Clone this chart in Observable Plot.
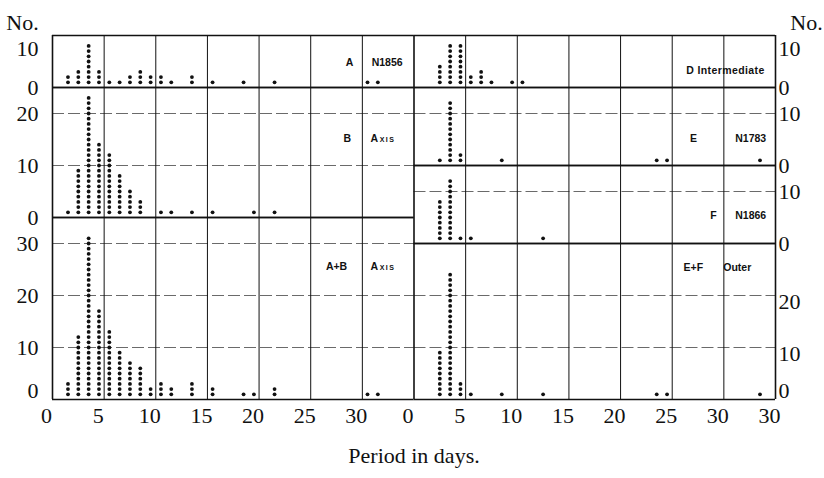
<!DOCTYPE html>
<html><head><meta charset="utf-8">
<script src="https://cdn.jsdelivr.net/npm/d3@7"></script>
<script src="https://cdn.jsdelivr.net/npm/@observablehq/plot@0.6"></script>
<style>
body{margin:0;background:#fff;}
#chart svg{display:block;background:#fff;}
</style></head><body><div id="chart"></div>
<script>
// ---- data (period bin centres in days, number of stars per bin) ----
const periodsLeft  = [1.5,2.5,3.5,4.5,5.5,6.5,7.5,8.5,9.5,10.5,11.5,13.5,15.5,18.5,19.5,21.5,30.5,31.5];
const countA       = [2,3,8,3,1,1,2,3,2,2,1,2,1,1,0,1,1,1];
const countB       = [1,9,23,14,12,8,5,3,0,1,1,1,1,0,1,1,0,0];
const countAB      = [3,12,31,17,13,9,7,6,2,3,2,3,2,1,1,2,1,1];
const periodsRight = [2.5,3.5,4.5,5.5,6.5,7.5,8.5,9.5,10.5,12.5,23.5,24.5,33.5];
const countD       = [4,8,8,2,3,1,0,1,1,0,0,0,0];
const countE       = [1,12,2,0,0,0,1,0,0,0,1,1,1];
const countF       = [8,12,1,1,0,0,0,0,0,1,0,0,0];
const countEF      = [9,24,3,1,0,0,1,0,0,1,1,1,1];
const panelLetters = ["A","B","A+B","D Intermediate","E","F","E+F"];
const panelNames   = ["N1856","Axis","Axis","","N1783","N1866","Outer"];
const xTickValues  = [0,5,10,15,20,25,30,35,40,45,50,55,60,65,70];
const xTickLabels  = ["0","5","10","15","20","25","30","0","5","10","15","20","25","30","30"];

// ---- layout of the stacked panels (y in count units, x in days; right half offset by 35) ----
const panels = [
  {side:0, base:60, top:70, periods:periodsLeft,  counts:countA,  ticks:[0,10],       grid:[],          lx:28.75, nx:32.4, ly:64.8},
  {side:0, base:35, top:60, periods:periodsLeft,  counts:countB,  ticks:[0,10,20],    grid:[10,20],     lx:28.55, nx:32.0, ly:50.2},
  {side:0, base:0,  top:35, periods:periodsLeft,  counts:countAB, ticks:[0,10,20,30], grid:[10,20,30],  lx:27.5,  nx:32.0, ly:25.6},
  {side:1, base:60, top:70, periods:periodsRight, counts:countD,  ticks:[0,10],       grid:[],          lx:65.15, nx:0,    ly:63.3},
  {side:1, base:45, top:60, periods:periodsRight, counts:countE,  ticks:[0,10],       grid:[10],        lx:62.05, nx:67.6, ly:50.1},
  {side:1, base:30, top:45, periods:periodsRight, counts:countF,  ticks:[0,10],       grid:[10],        lx:64.0,  nx:67.6, ly:35.4},
  {side:1, base:0,  top:30, periods:periodsRight, counts:countEF, ticks:[0,10,20],    grid:[10,20],     lx:62.05, nx:66.3, ly:25.4}
];

const dots = panels.flatMap(p => p.periods.flatMap((d, i) =>
  d3.range(1, p.counts[i] + 1).map(k => ({x: p.side * 35 + d, y: p.base + k}))));

const borders = panels.flatMap(p => [p.base, p.top].map(y => ({y, x1: p.side * 35, x2: p.side * 35 + 35})));
const grids = panels.flatMap(p => p.grid.map(g => ({y: p.base + g, x1: p.side * 35, x2: p.side * 35 + 35})));

const yLabels = panels.flatMap(p => p.ticks.map(t => ({
  side: p.side, y: p.base + t, text: String(t),
  shift: (p.base + t === p.top && p.top === 70) ? 13 : (p.base === 0 && t === 0 ? -9 : (p.base === 0 && p.side === 1 ? 6 : 0))
})));

const letters = panels.map((p, i) => ({x: p.lx, y: p.ly, text: panelLetters[i]}));
const names = panels.map((p, i) => ({x: p.nx, y: p.ly, text: panelNames[i]})).filter(d => d.text);

const serif = "'Liberation Serif', 'DejaVu Serif', serif";
const sans = "'Liberation Sans', Arial, sans-serif";
const FS = 22;

const yLabelMarks = [];
for (const side of [0, 1]) {
  for (const shift of Array.from(new Set(yLabels.map(d => d.shift)))) {
    const sub = yLabels.filter(d => d.side === side && d.shift === shift);
    if (!sub.length) continue;
    yLabelMarks.push(Plot.text(sub, {
      x: side ? 70 : 0, y: "y", text: "text",
      dx: side ? 3 : -14, dy: shift, textAnchor: side ? "start" : "end",
      fontFamily: serif, fontSize: FS, fill: "#111"
    }));
  }
}

const chart = Plot.plot({
  width: 824, height: 478,
  marginLeft: 52, marginRight: 49, marginTop: 35, marginBottom: 79,
  x: {domain: [0, 70], axis: null},
  y: {domain: [0, 70], axis: null},
  style: {background: "#fff", color: "#111"},
  marks: [
    Plot.ruleY(grids, {y: "y", x1: "x1", x2: "x2", stroke: "#444", strokeWidth: 0.8, strokeDasharray: "12,4"}),
    Plot.ruleX(xTickValues.filter(v => v % 35 !== 0), {x: d => d, y1: 0, y2: 70, stroke: "#111", strokeWidth: 1}),
    Plot.ruleX([0, 35, 70], {x: d => d, y1: 0, y2: 70, stroke: "#111", strokeWidth: 1.6}),
    Plot.ruleY(borders, {y: "y", x1: "x1", x2: "x2", stroke: "#111", strokeWidth: 1.4}),
    Plot.dot(dots, {x: "x", y: "y", r: 1.9, fill: "#111", stroke: "none"}),
    Plot.text(letters, {x: "x", y: "y", text: "text", fontFamily: sans, fontWeight: "bold", fontSize: 10.5, fill: "#111"}),
    Plot.text(names, {x: "x", y: "y", text: "text", fontFamily: sans, fontWeight: "bold", fontSize: 10.5, fill: "#111"}),
    ...yLabelMarks,
    Plot.text(xTickValues, {x: d => d, text: (d, i) => xTickLabels[i], frameAnchor: "bottom", dy: 23, dx: -6, fontFamily: serif, fontSize: FS, fill: "#111"}),
    Plot.text(["Period in days."], {x: 35, frameAnchor: "bottom", dy: 63, fontFamily: serif, fontSize: FS, fill: "#111"}),
    Plot.text(["No."], {x: 0, frameAnchor: "top", dx: -30, dy: -21, fontFamily: serif, fontSize: FS, fill: "#111"}),
    Plot.text(["No."], {x: 70, frameAnchor: "top", dx: 31, dy: -21, fontFamily: serif, fontSize: FS, fill: "#111"})
  ]
});

document.getElementById("chart").appendChild(chart);
d3.select(chart).selectAll("text").filter(function(){ return this.textContent === "Axis"; })
  .attr("font-variant", "small-caps").attr("letter-spacing", "1.5");
d3.select(chart).selectAll("text").filter(function(){ return this.textContent === "D Intermediate"; })
  .attr("letter-spacing", "0.4");
</script></body></html>
